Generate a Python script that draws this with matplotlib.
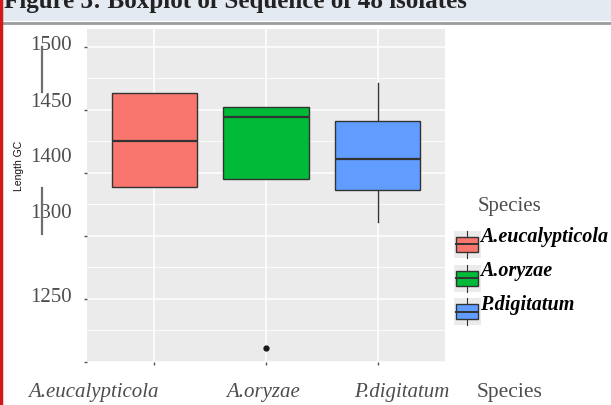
import matplotlib
matplotlib.use("Agg")
from matplotlib import pyplot as plt
from matplotlib.patches import Rectangle
from matplotlib.lines import Line2D
from matplotlib.legend_handler import HandlerBase

# dados
especies = ["A.eucalypticola", "A.oryzae", "P.digitatum"]
cores = ["#F8766D", "#00BA38", "#619CFF"]
q1 = [1389, 1395, 1386]
mediana = [1425, 1444, 1411]
q3 = [1463, 1452, 1441]
bigode_baixo = [1389, 1395, 1361]
bigode_alto = [1463, 1452, 1471]
outliers = [[], [1261], []]

# rotulos do eixo y (como aparecem na figura)
rotulos_y = ["1500", "1450", "1400", "1300", "1250"]
pos_rotulos_y = [1501, 1456, 1412, 1368, 1301]
pos_rotulos_x = [0.46, 1.97, 3.21]

W, H = 611, 405
fig = plt.figure(figsize=(6.11, 4.05), dpi=100)
fig.patch.set_facecolor("white")

# faixa do titulo (cortada)
fig.patches.append(Rectangle((0, 1 - 21 / H), 1, 21 / H, transform=fig.transFigure,
                             facecolor="#e4eaf1", edgecolor="none", zorder=0))
fig.lines.append(Line2D([0, 1], [1 - 23 / H] * 2, transform=fig.transFigure,
                        color="#9c9c9c", lw=2))
fig.lines.append(Line2D([1 / W, 1 / W], [0, 1], transform=fig.transFigure,
                        color="#d21a1a", lw=2.5))
fig.text(4 / W, 1 - 8 / H, "Figure 3: Boxplot of Sequence of 48 isolates",
         family="Liberation Serif", fontsize=18, fontweight="bold",
         va="baseline", ha="left", color="#222222")

ax = fig.add_axes([87 / W, 1 - 362 / H, (445 - 87) / W, (362 - 29) / H])
ax.set_facecolor("#EBEBEB")
for s in ax.spines.values():
    s.set_visible(False)

stats = []
for i in range(3):
    stats.append({"med": mediana[i], "q1": q1[i], "q3": q3[i],
                  "whislo": bigode_baixo[i], "whishi": bigode_alto[i],
                  "fliers": outliers[i], "label": especies[i]})

bp = ax.bxp(stats, positions=[1, 2, 3], widths=0.76, patch_artist=True,
            showcaps=False,
            boxprops=dict(edgecolor="#333333", linewidth=1.0),
            medianprops=dict(color="#333333", linewidth=1.6),
            whiskerprops=dict(color="#333333", linewidth=1.0),
            flierprops=dict(marker="o", markersize=3.5, markerfacecolor="#1a1a1a",
                            markeredgecolor="#1a1a1a"))
for caixa, c in zip(bp["boxes"], cores):
    caixa.set_facecolor(c)
    caixa.set_zorder(3)
for m in bp["medians"]:
    m.set_zorder(4)

ax.set_xlim(0.4, 3.6)
ax.set_ylim(1250, 1514)
ax.set_yticks([1250, 1300, 1350, 1400, 1450, 1500])
ax.set_yticks([1275, 1325, 1375, 1425, 1475], minor=True)
ax.set_xticks([1, 2, 3])
ax.set_yticklabels([])
ax.set_xticklabels([])
ax.tick_params(which="major", length=2, width=1, color="#555555")
ax.tick_params(which="minor", length=0)
ax.grid(True, which="major", color="white", lw=1.1)
ax.grid(True, which="minor", axis="y", color="white", lw=0.6)
ax.set_axisbelow(True)

# rotulos dos eixos
for txt, y in zip(rotulos_y, pos_rotulos_y):
    ax.text(-15 / (445 - 87), y, txt, transform=ax.get_yaxis_transform(),
            ha="right", va="center", family="Liberation Serif", fontsize=15,
            color="#4d4d4d")
for txt, x in zip(especies, pos_rotulos_x):
    ax.text(x, -31 / (362 - 29), txt, transform=ax.get_xaxis_transform(),
            ha="center", va="center", family="Liberation Serif", style="italic",
            fontsize=15, color="#4d4d4d")
fig.text(510 / W, 1 - 393 / H, "Species", ha="center", va="center",
         family="Liberation Serif", fontsize=15.5, color="#4d4d4d")
fig.text(19 / W, 1 - 166 / H, "Length GC", rotation=90, ha="center", va="center",
         family="Liberation Sans", fontsize=7.5, color="#111111")

# tracos estranhos ao lado do eixo y
fig.lines.append(Line2D([42 / W] * 2, [1 - 47 / H, 1 - 92 / H],
                        transform=fig.transFigure, color="#6e6e6e", lw=1.6))
fig.lines.append(Line2D([42 / W] * 2, [1 - 188 / H, 1 - 234 / H],
                        transform=fig.transFigure, color="#6e6e6e", lw=1.6))


class HandlerBox(HandlerBase):
    def create_artists(self, legend, orig, xd, yd, w, h, fs, trans):
        y0 = yd - 0.75 * h
        fundo = Rectangle((xd - 1, y0 - 3), w + 2, h + 6, facecolor="#EBEBEB",
                          edgecolor="none", transform=trans)
        caixa = Rectangle((xd + 0.06 * w, y0 + 0.1 * h), 0.88 * w, 0.8 * h,
                          facecolor=orig.get_facecolor(), edgecolor="#333333",
                          lw=1.0, transform=trans)
        med = Line2D([xd + 0.06 * w, xd + 0.94 * w], [y0 + h / 2] * 2,
                     color="#333333", lw=1.4, transform=trans)
        b1 = Line2D([xd + w / 2] * 2, [y0 - 3, y0 + 0.1 * h], color="#333333",
                    lw=0.8, transform=trans)
        b2 = Line2D([xd + w / 2] * 2, [y0 + 0.9 * h, y0 + h + 3], color="#333333",
                    lw=0.8, transform=trans)
        return [fundo, caixa, med, b1, b2]


handles = [Rectangle((0, 0), 1, 1, facecolor=c) for c in cores]
leg = fig.legend(handles, especies, handler_map={Rectangle: HandlerBox()},
                 loc="upper left", bbox_to_anchor=(451 / W, 1 - 222 / H),
                 frameon=False,
                 prop={"family": "Liberation Serif", "style": "italic",
                       "weight": "bold", "size": 14.5},
                 handlelength=1.2, handleheight=1.05, handletextpad=0.05,
                 labelspacing=0.62, borderpad=0.2, borderaxespad=0)
fig.text(478 / W, 1 - 207 / H, "Species", ha="left", va="center",
         family="Liberation Serif", fontsize=15, color="#4d4d4d")

fig.savefig("out.png", dpi=100)
